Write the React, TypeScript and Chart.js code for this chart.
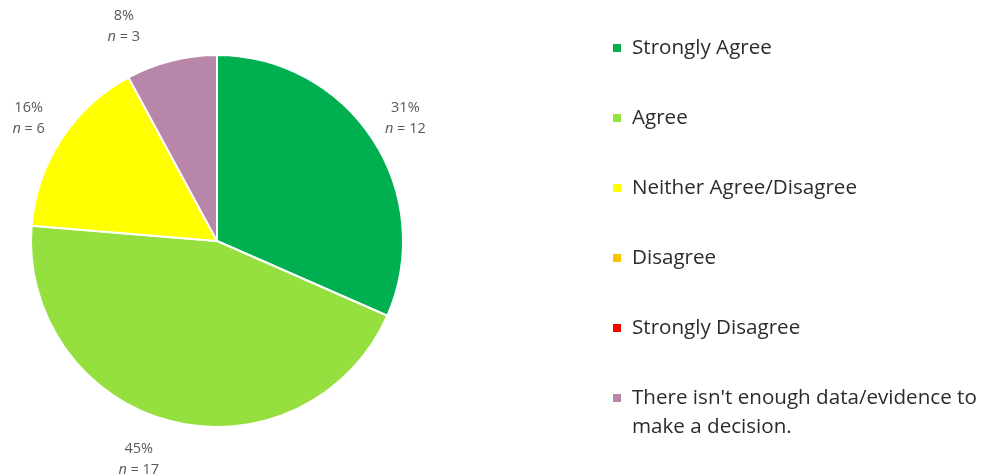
import React, { useEffect, useRef } from "react";
import { Chart, registerables } from "chart.js";

Chart.register(...registerables);

const categories = [
  "Strongly Agree",
  "Agree",
  "Neither Agree/Disagree",
  "Disagree",
  "Strongly Disagree",
  "There isn't enough data/evidence to make a decision.",
];
const counts = [12, 17, 6, 0, 0, 3];
const percentLabels = ["31%", "45%", "16%", "0%", "0%", "8%"];
const colors = ["#00B050", "#95DF3F", "#FFFF00", "#FFC000", "#FF0000", "#B886A8"];

// style: horizontal nudges of the slice labels (best-fit placement)
const labelNudgeX = [0, -23, 0, 0, 0, -38];
const labelNudgeY = [0, 0, 0, 0, 0, 3];

const FONT = "'Open Sans', 'Noto Sans', sans-serif";

const sliceLabelPlugin = {
  id: "sliceLabels",
  afterDatasetsDraw(chart: any) {
    const ctx = chart.ctx;
    const meta = chart.getDatasetMeta(0);
    const data = chart.data.datasets[0].data as number[];
    ctx.save();
    ctx.fillStyle = "#595959";
    ctx.textBaseline = "middle";
    meta.data.forEach((arc: any, i: number) => {
      if (!data[i]) return;
      const { x, y, startAngle, endAngle, outerRadius } = arc.getProps(
        ["x", "y", "startAngle", "endAngle", "outerRadius"],
        true
      );
      const mid = (startAngle + endAngle) / 2;
      const R = outerRadius + 39;
      const px = x + Math.cos(mid) * R + labelNudgeX[i];
      const py = y + Math.sin(mid) * R + labelNudgeY[i];
      const normal = `14.5px ${FONT}`;
      const italic = `italic 14.5px ${FONT}`;
      ctx.font = normal;
      ctx.textAlign = "center";
      ctx.fillText(percentLabels[i], px, py - 10);
      const rest = ` = ${data[i]}`;
      ctx.font = italic;
      const wN = ctx.measureText("n").width;
      ctx.font = normal;
      const wR = ctx.measureText(rest).width;
      const sx = px - (wN + wR) / 2;
      ctx.textAlign = "left";
      ctx.font = italic;
      ctx.fillText("n", sx, py + 11);
      ctx.font = normal;
      ctx.fillText(rest, sx + wN, py + 11);
    });
    ctx.restore();
  },
};

const legendPlugin = {
  id: "sideLegend",
  afterDraw(chart: any) {
    const ctx = chart.ctx;
    const labels = chart.data.labels as string[];
    const bg = chart.data.datasets[0].backgroundColor as string[];
    const x0 = 613;
    const textX = 632;
    const y0 = 48;
    const step = 70;
    const maxW = 360;
    const lineH = 29;
    ctx.save();
    ctx.font = `20.6px ${FONT}`;
    ctx.textBaseline = "middle";
    ctx.textAlign = "left";
    labels.forEach((label, i) => {
      const cy = y0 + i * step;
      ctx.fillStyle = bg[i];
      ctx.fillRect(x0, cy - 4, 8, 8);
      ctx.fillStyle = "#2B2B2B";
      const words = label.split(" ");
      const lines: string[] = [];
      let cur = "";
      words.forEach((w) => {
        const t = cur ? cur + " " + w : w;
        if (ctx.measureText(t).width > maxW && cur) {
          lines.push(cur);
          cur = w;
        } else cur = t;
      });
      if (cur) lines.push(cur);
      lines.forEach((ln, j) => ctx.fillText(ln, textX, cy + j * lineH));
    });
    ctx.restore();
  },
};

export default function App() {
  const ref = useRef<HTMLCanvasElement>(null);
  useEffect(() => {
    if (!ref.current) return;
    const chart = new Chart(ref.current, {
      type: "pie",
      data: {
        labels: categories,
        datasets: [
          {
            data: counts,
            backgroundColor: colors,
            borderColor: "#FFFFFF",
            borderWidth: 2,
          },
        ],
      },
      options: {
        animation: false,
        responsive: true,
        maintainAspectRatio: false,
        layout: { padding: { left: 30, right: 583, top: 54, bottom: 46 } },
        plugins: {
          legend: { display: false },
          tooltip: { enabled: false },
          title: { display: false },
        },
      },
      plugins: [sliceLabelPlugin, legendPlugin],
    });
    return () => chart.destroy();
  }, []);
  return (
    <div
      style={{
        position: "absolute",
        left: 0,
        top: 0,
        width: 987,
        height: 474,
        background: "#FFFFFF",
      }}
    >
      <canvas ref={ref} />
    </div>
  );
}
